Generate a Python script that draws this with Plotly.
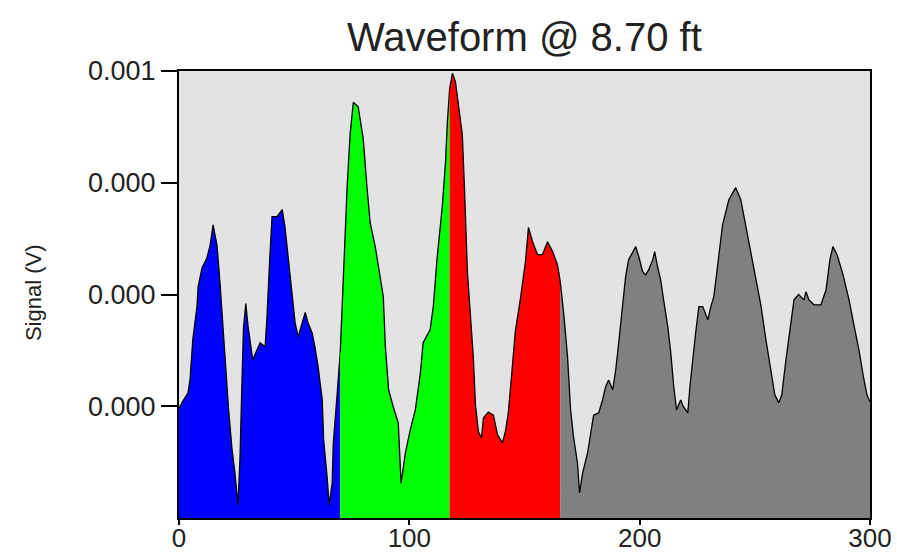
import plotly.graph_objects as go

# ---- data (x: sample index, y: signal in volts) ----
blue_x = [0, 1.5, 3.9, 4.8, 6, 7.8, 8.3, 10, 12, 13.5, 14.8, 16.5, 17.8, 19.3, 20.5, 21.5, 23, 24.3,
          25.6, 26.5, 27.4, 28.0, 29, 30, 32, 33.7, 35.2, 37.4, 38.2, 39.3, 40.4, 42.5, 44.8, 46, 47.4,
          49, 50.4, 51.7, 53.5, 54.8, 56, 57.8, 59, 60.4, 62.2, 62.8, 64.3, 65.2, 66.5, 67, 68.7, 70]
blue_y = [0.000245, 0.000260, 0.000280, 0.000310, 0.000400, 0.000473, 0.000517, 0.000560, 0.000580,
          0.000610, 0.000656, 0.000610, 0.000526, 0.000410, 0.000300, 0.000245, 0.000155, 0.000100,
          0.000029, 0.000137, 0.000316, 0.000426, 0.000480, 0.000428, 0.000354, 0.000376, 0.000392,
          0.000383, 0.000450, 0.000570, 0.000674, 0.000674, 0.000690, 0.000652, 0.000585, 0.000504,
          0.000437, 0.000405, 0.000437, 0.000460, 0.000437, 0.000414, 0.000383, 0.000338, 0.000264,
          0.000175, 0.000092, 0.000029, 0.000078, 0.000168, 0.000280, 0.000370]

green_x = [70, 70.9, 71.7, 73, 74.3, 75.7, 77.8, 80, 81.6, 83, 85.2, 87.4, 88.7, 89.6, 91, 93, 95.2,
           96.4, 98.3, 100.4, 102.6, 104.8, 106, 109, 110.4, 112, 114.3, 115.7, 116.5, 117.5]
green_y = [0.000370, 0.000480, 0.000616, 0.000741, 0.000860, 0.000930, 0.000920, 0.000847, 0.000741,
           0.000660, 0.000607, 0.000533, 0.000495, 0.000383, 0.000287, 0.000249, 0.000213, 0.000078,
           0.000146, 0.000197, 0.000242, 0.000325, 0.000392, 0.000421, 0.000473, 0.000578, 0.000697,
           0.000795, 0.000885, 0.000960]

red_x = [117.5, 118.7, 120, 121.3, 123, 124, 125.2, 126.5, 127.8, 128.7, 130, 131.3, 132.2, 134.3,
         136.5, 138.3, 140.4, 141.7, 143, 144.8, 146, 148.3, 150.4, 151.7, 153.5, 155.7, 157.8, 160,
         162.2, 164.3, 165.5]
red_y = [0.000960, 0.000995, 0.000976, 0.000925, 0.000858, 0.000730, 0.000551, 0.000455, 0.000358,
         0.000253, 0.000193, 0.000179, 0.000224, 0.000237, 0.000230, 0.000186, 0.000168, 0.000193,
         0.000237, 0.000343, 0.000417, 0.000493, 0.000573, 0.000650, 0.000618, 0.000589, 0.000589,
         0.000618, 0.000596, 0.000567, 0.000530]

gray_x = [165.5, 167, 168.7, 170, 171.3, 173, 173.9, 175.2, 177.4, 178.7, 180, 182.2, 183.9, 185.2,
          186.5, 188.3, 189.6, 190.9, 192.6, 193.9, 195.2, 197, 198.3, 199.6, 201.3, 202.6, 203.9,
          205.7, 206.5, 207.8, 209.1, 210.4, 212.2, 213.5, 214.8, 216, 217.8, 219, 220.9, 221.8, 223,
          224.3, 225.7, 227.4, 229.6, 230.9, 232.2, 234.3, 236, 238.7, 241.7, 243.9, 246, 248.3, 250.4,
          252.6, 254.8, 257, 258.7, 260.4, 261.7, 263.5, 265.7, 267, 269, 271.3, 272.2, 273.5, 275.7,
          278.7, 280.9, 282.6, 283.9, 285.7, 288.3, 290.9, 293, 295.2, 297, 298.7, 300]
gray_y = [0.000530, 0.000459, 0.000360, 0.000242, 0.000181, 0.000123, 0.000056, 0.000100, 0.000146,
          0.000190, 0.000230, 0.000235, 0.000264, 0.000293, 0.000309, 0.000287, 0.000331, 0.000392,
          0.000473, 0.000540, 0.000578, 0.000596, 0.000607, 0.000585, 0.000551, 0.000544, 0.000555,
          0.000578, 0.000596, 0.000562, 0.000533, 0.000488, 0.000428, 0.000370, 0.000293, 0.000242,
          0.000264, 0.000249, 0.000235, 0.000293, 0.000354, 0.000414, 0.000473, 0.000473, 0.000443,
          0.000473, 0.000495, 0.000589, 0.000656, 0.000712, 0.000739, 0.000712, 0.000656, 0.000600,
          0.000544, 0.000477, 0.000399, 0.000331, 0.000275, 0.000258, 0.000275, 0.000354, 0.000443,
          0.000488, 0.000500, 0.000488, 0.000506, 0.000488, 0.000477, 0.000477, 0.000510, 0.000578,
          0.000607, 0.000589, 0.000544, 0.000488, 0.000432, 0.000376, 0.000320, 0.000275, 0.000260]

segments = [
    (blue_x, blue_y, "#0000ff"),
    (green_x, green_y, "#00ff00"),
    (red_x, red_y, "#ff0000"),
    (gray_x, gray_y, "#808080"),
]

y_tickvals = [0.00025, 0.0005, 0.00075, 0.001]
y_ticktext = ["0.000", "0.000", "0.000", "0.001"]
x_tickvals = [0, 100, 200, 300]
x_ticktext = ["0", "100", "200", "300"]

FONT = "Liberation Sans, Arial, sans-serif"
TXT = "#222222"

fig = go.Figure()
for sx, sy, col in segments:
    fig.add_trace(go.Scatter(
        x=sx, y=sy, mode="lines", fill="tozeroy", fillcolor=col,
        line=dict(color="#000000", width=1.3), showlegend=False, hoverinfo="skip",
    ))

fig.update_layout(
    width=897, height=556,
    margin=dict(l=179, r=27, t=71, b=38, autoexpand=False),
    paper_bgcolor="#ffffff",
    plot_bgcolor="#e3e3e3",
    font=dict(family=FONT, color=TXT),
    showlegend=False,
    annotations=[
        dict(text="Waveform @ 8.70 ft", xref="paper", yref="paper", x=0.5, y=1.0,
             xanchor="center", yanchor="bottom", yshift=10, showarrow=False,
             font=dict(family=FONT, size=40, color=TXT)),
        dict(text="Signal (V)", xref="paper", yref="paper", x=(33 - 179) / 690, y=0.505,
             xanchor="center", yanchor="middle", textangle=-90, showarrow=False,
             font=dict(family=FONT, size=22, color=TXT)),
    ],
)

fig.update_xaxes(
    range=[0, 300], tickvals=x_tickvals, ticktext=x_ticktext, automargin=False,
    ticks="outside", ticklen=5, tickwidth=1.5, tickcolor="#000000",
    ticklabelstandoff=-9,
    showline=True, linecolor="#000000", linewidth=2, mirror=True,
    showgrid=False, zeroline=False,
    tickfont=dict(family=FONT, size=26, color=TXT),
)
fig.update_yaxes(
    range=[0, 0.001], tickvals=y_tickvals, ticktext=y_ticktext, automargin=False,
    ticks="outside", ticklen=16, tickwidth=1.5, tickcolor="#000000",
    showline=True, linecolor="#000000", linewidth=2, mirror=True,
    showgrid=False, zeroline=False,
    tickfont=dict(family=FONT, size=27, color=TXT),
)

fig.write_html("out.html")
